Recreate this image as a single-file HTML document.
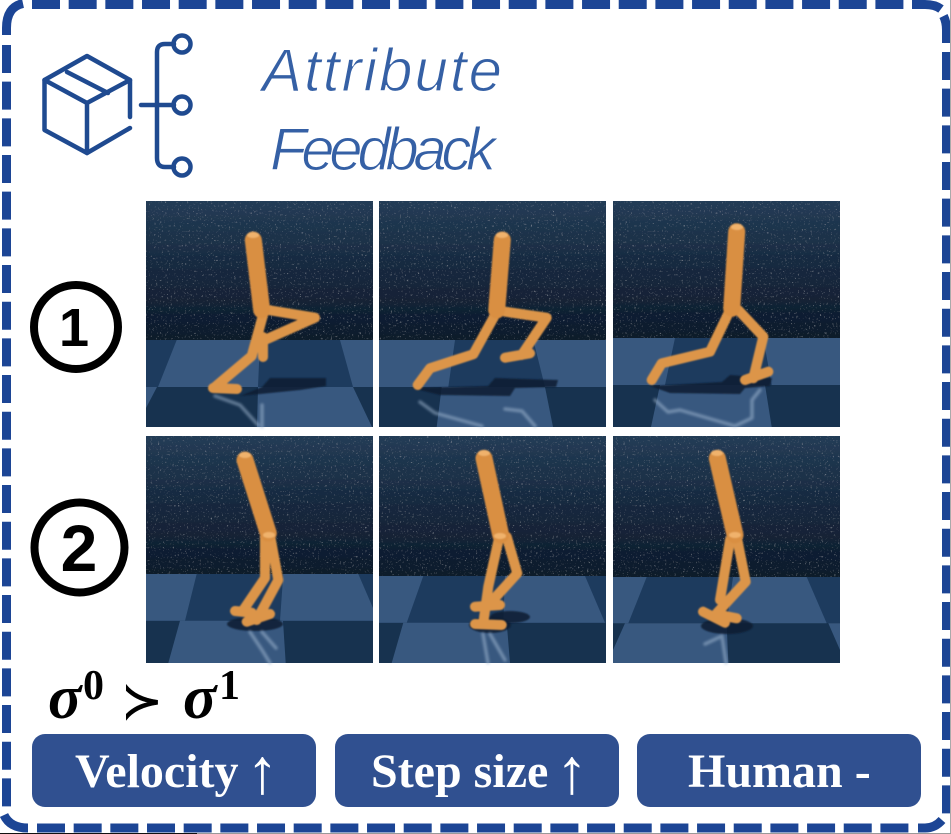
<!DOCTYPE html>
<html lang="en"><head><meta charset="utf-8"><title>Attribute Feedback</title>
<style>
html,body{margin:0;padding:0;background:#fff;width:951px;height:834px;overflow:hidden}
svg{display:block}
.limb{fill:none;stroke:#dc9549;stroke-linecap:round;stroke-linejoin:round;stroke-width:10}
.torso{fill:none;stroke:#d98f43;stroke-linecap:round;stroke-width:17}
.hip{fill:#f0b26c}
.lt{fill:#38587f}.dk2{fill:#17324f}
.shadow{fill:#0e1c30;opacity:.85}
.refl{fill:none;stroke:#a9bfd8;stroke-width:3.500;opacity:.5;stroke-linecap:round;stroke-linejoin:round}
.ico{fill:none;stroke:#1f4a90;stroke-width:4.500;stroke-linecap:round;stroke-linejoin:round}
.hand{font-family:"Liberation Sans",sans-serif;font-style:italic;font-size:60px;fill:#3560a5;stroke:#fff;stroke-width:1.1}
.btn-label{font-family:"Liberation Serif",serif;font-weight:bold;font-size:48px;fill:#fff}
.arrow{font-family:"Liberation Serif",serif;font-size:64px;fill:#fff;text-anchor:middle}
.digit{font-family:"Liberation Sans",sans-serif;font-weight:bold;fill:#000;text-anchor:middle}
.ring{fill:none;stroke:#000;stroke-width:8}
.sig{font-family:"Liberation Serif",serif;font-weight:bold;font-style:italic;font-size:62px;fill:#000}
.sup{font-family:"Liberation Serif",serif;font-weight:bold;font-size:42px;fill:#000}
.bd{fill:none;stroke:#1c4595;stroke-width:9}
.bdd{fill:none;stroke:#1c4595;stroke-width:9;stroke-dasharray:28 8.67}
</style></head><body>
<svg width="951" height="834" viewBox="0 0 951 834" xmlns="http://www.w3.org/2000/svg">
<defs>
<linearGradient id="wall" x1="0" y1="0" x2="0" y2="1"><stop offset="0" stop-color="#233c56"/><stop offset=".5" stop-color="#16283e"/><stop offset="1" stop-color="#0d1a2b"/></linearGradient>
<filter id="speck" x="0" y="0" width="100%" height="100%">
<feTurbulence type="fractalNoise" baseFrequency=".55" numOctaves="2" seed="4" result="n"/>
<feColorMatrix in="n" type="matrix" values="0 0 0 0 .6  0 0 0 0 .68  0 0 0 0 .78  1.2 0 0 0 -.78" result="s"/>
<feComposite in="s" in2="SourceGraphic" operator="in" result="c"/>
<feMerge><feMergeNode in="SourceGraphic"/><feMergeNode in="c"/></feMerge>
</filter>
<filter id="soft" x="-20%" y="-20%" width="140%" height="140%"><feGaussianBlur stdDeviation=".8"/></filter>
<filter id="softer" x="-20%" y="-20%" width="140%" height="140%"><feGaussianBlur stdDeviation="1.4"/></filter>
</defs>

<rect width="951" height="834" fill="#fff"/>
<g>
<path class="bdd" d="M32 4.500H905"/>
<path class="bd" d="M912 4.500H925Q935 4.500 941 9"/>
<path class="bd" d="M943.500 16Q946.500 22 946.500 30V43"/>
<path class="bdd" d="M946.500 52V814"/>
<path class="bd" d="M942 820Q935 828 925 828H918"/>
<path class="bdd" d="M37 828H909"/>
<path class="bd" d="M28 828Q10 828 4 815"/>
<path class="bdd" d="M6.500 45V807"/>
<path class="bd" d="M6.500 35V28Q6.500 7 23 3.500"/>
</g>
<path d="M950.500 0V834" stroke="#aaa" stroke-width="1"/>
<path d="M0 833.500H951" stroke="#999" stroke-width="1"/>
<path d="M0 833.500H197" stroke="#111" stroke-width="1"/>

<!-- icon -->
<g class="ico">
<path d="M130 117V80L87 56L44.500 80V130L87 153L130 128"/>
<path d="M44.500 80L87 103L130 80M87 103V153M67 72L108 93"/>
<path d="M141 105H174M157 105V52Q157 44 165 44H174M157 105V158Q157 167 165 167H174"/>
<circle cx="182" cy="44" r="8.500"/><circle cx="182" cy="105" r="8.500"/><circle cx="182" cy="167" r="8.500"/>
</g>
<text class="hand" x="262" y="91" textLength="240" lengthAdjust="spacing">Attribute</text>
<text class="hand" x="270" y="170" textLength="226" lengthAdjust="spacing">Feedback</text>

<!-- numbers -->
<g><circle class="ring" cx="76" cy="327" r="42"/><text class="digit" x="74" y="346" font-size="54">1</text></g>
<g><circle class="ring" cx="79.500" cy="547.500" r="45"/><text class="digit" x="79" y="571" font-size="66">2</text></g>

<!-- panel 1-1 -->
<g>
<rect x="146" y="340" width="227" height="47" fill="#1d3b5e"/><rect class="dk2" x="146" y="387" width="227" height="40"/>
<polygon class="lt" points="176.700,340 260,340 258,387 158,387"/><polygon class="lt" points="340,340 373,340 373,387 353,387"/>
<polygon class="lt" points="146,387 157,387 146,408"/><polygon class="lt" points="258,387 353,387 372,427 257,427"/>
<rect x="146" y="201" width="227" height="139" fill="url(#wall)" filter="url(#speck)"/>
<path class="shadow" filter="url(#soft)" d="M262 387L270 378L326 378L326 386L300 390L240 396Z"/>
<path class="refl" filter="url(#softer)" d="M215 396L240 405L258 425M262 405L262 427"/>
<g filter="url(#soft)">
<path class="limb" d="M263 337L263 357M268 310L315 317.700L267 339"/>
<path class="limb" d="M263 315L251.700 356L215 387M213 388L237 389"/>
<path class="torso" d="M253.300 240L261.700 310"/>
<ellipse class="hip" cx="253" cy="235" rx="6" ry="3"/>
</g></g>

<!-- panel 1-2 -->
<g>
<rect x="379" y="340" width="227" height="47" fill="#1d3b5e"/><rect class="dk2" x="379" y="387" width="227" height="40"/>
<polygon class="lt" points="379,340 455,340 448.300,387 379,387"/><polygon class="lt" points="533.300,340 606,340 606,387 545,387"/>
<polygon class="lt" points="441.700,387 545,387 553,427 436.700,427"/>
<rect x="379" y="201" width="227" height="139" fill="url(#wall)" filter="url(#speck)"/>
<path class="shadow" filter="url(#soft)" d="M488 386L495 378L558 380L556 387L515 388L510 396L440 395L412 388Z"/>
<path class="refl" filter="url(#softer)" d="M420 402L435 413L482 426M505 409L522 411L535 426"/>
<g filter="url(#soft)">
<path class="limb" d="M505 311.700L546.700 317.700L521.700 355M505 357.700L530 353.300"/>
<path class="limb" d="M495 315L473.300 354.300L430 368.300L417.700 385"/>
<path class="torso" d="M502.300 240L496.700 310"/>
<ellipse class="hip" cx="502" cy="235" rx="6" ry="3"/>
</g></g>

<!-- panel 1-3 -->
<g>
<rect x="613" y="338" width="227" height="47" fill="#1d3b5e"/><rect class="dk2" x="613" y="385" width="227" height="42"/>
<polygon class="lt" points="613,338 675,338 665,385 613,385"/><polygon class="lt" points="763.300,338 840,338 840,385 771.700,385"/>
<polygon class="lt" points="660,385 765,385 771.700,427 651,427"/>
<rect x="613" y="201" width="227" height="137" fill="url(#wall)" filter="url(#speck)"/>
<path class="shadow" filter="url(#soft)" d="M722 382L730 375L772 378L770 386L745 388L740 394L670 393L650 386Z"/>
<path class="refl" filter="url(#softer)" d="M655 400L668 412L680 410L735 426L752 418L752 400L760 390"/>
<g filter="url(#soft)">
<path class="limb" d="M738.300 310L763.300 336.700L753.300 378.300M745 380L768.300 371.700"/>
<path class="limb" d="M730 310L710 351.700L661.700 363.300L651.700 380"/>
<path class="torso" d="M736.700 231.700L731.700 308.300"/>
<ellipse class="hip" cx="737" cy="227" rx="6" ry="3"/>
</g></g>

<!-- panel 2-1 -->
<g>
<rect x="146" y="574" width="227" height="47" fill="#1d3b5e"/><rect class="dk2" x="146" y="621" width="227" height="42"/>
<polygon class="lt" points="146,574 196.700,574 185,620.700 146,620.700"/><polygon class="lt" points="283.300,574 358.300,574 373,608 373,620.700 280,620.700"/>
<polygon class="lt" points="180,620.700 283,620.700 285.700,663 168.300,663"/>
<rect x="146" y="436" width="227" height="138" fill="url(#wall)" filter="url(#speck)"/>
<ellipse class="shadow" filter="url(#soft)" cx="255" cy="624" rx="28" ry="7"/>
<path class="refl" filter="url(#softer)" d="M250 632L262 650L270 663M262 632L276 648"/>
<g filter="url(#soft)">
<path class="limb" d="M265 536.700L265 578L243.300 610M235 611L251.700 612.700"/>
<path class="limb" d="M270 535L278.300 580L256.700 620M246.700 621.700L270 614"/>
<path class="torso" d="M245 460L268.300 533.300"/>
<ellipse class="hip" cx="245" cy="455" rx="6" ry="3"/><ellipse class="hip" cx="269" cy="535" rx="6" ry="3"/>
</g></g>

<!-- panel 2-2 -->
<g>
<rect x="379" y="576" width="227" height="47" fill="#1d3b5e"/><rect class="dk2" x="379" y="623" width="227" height="40"/>
<polygon class="lt" points="379,576 423.300,576 406.700,622.700 379,622.700"/><polygon class="lt" points="505,576 585,576 605,622.700 503.300,622.700"/>
<polygon class="lt" points="403.300,622.700 506.700,622.700 510,663 391.700,663"/>
<rect x="379" y="436" width="227" height="140" fill="url(#wall)" filter="url(#speck)"/>
<ellipse class="shadow" filter="url(#soft)" cx="490" cy="625" rx="21" ry="8"/><ellipse class="shadow" filter="url(#soft)" cx="510" cy="617" rx="20" ry="6"/>
<path class="refl" filter="url(#softer)" d="M483 634L488 663M490 634L505 660"/>
<g filter="url(#soft)">
<path class="limb" d="M506.700 536.700L517.300 573.300L490 603.300M475 606.700L500 605"/>
<path class="limb" d="M499.300 536.700L488.300 586.700L483.300 623M475 624L501.700 625"/>
<path class="torso" d="M484 458.300L500.700 535"/>
<ellipse class="hip" cx="484" cy="453" rx="6" ry="3"/><ellipse class="hip" cx="500" cy="536" rx="6" ry="3"/>
</g></g>

<!-- panel 2-3 -->
<g>
<rect x="613" y="577" width="227" height="46" fill="#1d3b5e"/><rect class="dk2" x="613" y="623" width="227" height="40"/>
<polygon class="lt" points="613,577 646.700,577 628.300,623.300 613,623.300"/><polygon class="lt" points="733,577 806.700,577 826.700,623.300 726.700,623.300"/>
<polygon class="lt" points="625,623.300 726.700,623.300 728.300,663 613,663 613,650"/><polygon class="lt" points="828.300,623.300 840,623.300 840,650"/>
<rect x="613" y="436" width="227" height="141" fill="url(#wall)" filter="url(#speck)"/>
<ellipse class="shadow" filter="url(#soft)" cx="727" cy="626" rx="26" ry="8"/>
<path class="refl" filter="url(#softer)" d="M705 644L722 636L726 663"/>
<g filter="url(#soft)">
<path class="limb" d="M730 540L720 600M720 615L736.700 618.300"/>
<path class="limb" d="M736.700 536.700L745.700 581.700L716.700 613.300M703 611.700L725 622.700"/>
<path class="torso" d="M717.300 458.300L735 535"/>
<ellipse class="hip" cx="717" cy="453" rx="6" ry="3"/><ellipse class="hip" cx="735" cy="535" rx="6" ry="3"/>
</g></g>

<!-- relation -->
<g>
<text class="sig" x="48" y="718">σ</text><text class="sup" x="83" y="699">0</text>
<text x="121" y="718" font-family="DejaVu Sans, sans-serif" font-size="50" fill="#000" stroke="#000" stroke-width=".6">≻</text>
<text class="sig" x="183" y="718">σ</text><text class="sup" x="219" y="699">1</text>
</g>

<!-- buttons -->
<g><rect x="32" y="734" width="284" height="73" rx="13" fill="#305090"/><text class="btn-label" x="75" y="787">Velocity</text><text class="arrow" x="262.500" y="793">↑</text></g>
<g><rect x="335" y="734" width="284" height="73" rx="13" fill="#305090"/><text class="btn-label" x="371" y="787">Step size</text><text class="arrow" x="572" y="793">↑</text></g>
<g><rect x="637" y="734" width="284" height="73" rx="13" fill="#305090"/><text class="btn-label" x="688" y="787">Human -</text></g>
</svg>
</body></html>
